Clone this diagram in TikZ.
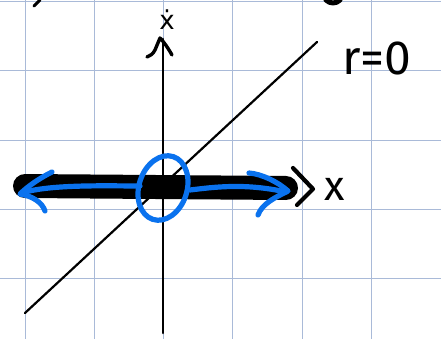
\documentclass[tikz,border=0pt]{standalone}
\usepackage{fontspec}
\setmainfont{Fira Sans}
\newfontfamily\djfont{DejaVu Sans}
\definecolor{gridc}{HTML}{A9BAD8}
\definecolor{blueink}{HTML}{0A72EE}
\begin{document}
\begin{tikzpicture}[x=1pt,y=-1pt,line cap=round,line join=round,
  gridline/.style={draw=gridc,line width=1pt,line cap=butt},
  ink/.style={draw=black,line width=2.4pt},
  bluepen/.style={draw=blueink,line width=5.2pt},
  hand/.style={inner sep=0pt,font=\fontsize{40}{40}\selectfont}]
\useasboundingbox (0,0) rectangle (441,339);
\fill[white] (0,0) rectangle (441,339);
% grid paper
\foreach \gx in {25,94,163,232,302,371} \draw[gridline] (\gx,0) -- (\gx,339);
\foreach \gy in {2,71,141,209,278} \draw[gridline] (0,\gy) -- (441,\gy);
% cut-off strokes at the top edge
\draw[ink,line width=3pt] (34,6) -- (40,0);
\draw[ink,line width=5pt] (326,0) .. controls (330,4) and (336,4) .. (340,0);
% coordinates
\coordinate (vtop) at (163,39);
\coordinate (vbot) at (163,333);
\coordinate (dlo) at (25,313);
\coordinate (dhi) at (317,42);
\coordinate (bl) at (25,186);
\coordinate (br) at (286,188);
% diagonal line
\draw[ink,line width=2.2pt] (dlo) -- (dhi);
% vertical axis with hand-drawn head
\draw[ink,line width=2.6pt] (vbot) -- (vtop);
\draw[ink,line width=3.4pt] (147,57) .. controls (150,56) and (153,54) .. (155,50) -- (160,38) .. controls (164,42) and (168,48) .. (172,55);
% thick black bar
\draw[draw=black,line width=24pt] (bl) -- (br);
\draw[ink,line width=4.2pt] (293,168) -- (313,189) -- (297,205);
% blue trajectory
\draw[bluepen] (22,193) .. controls (50,184) and (110,186) .. (140,186);
\draw[bluepen] (190,190) .. controls (215,187) and (245,183) .. (286,192);
\draw[bluepen] (52,172) .. controls (40,178) and (28,186) .. (20,194) .. controls (32,196) and (42,202) .. (45,211);
\draw[bluepen] (249,173) .. controls (262,174) and (278,182) .. (288,191) .. controls (274,198) and (262,204) .. (258,215);
\draw[bluepen] (163,188) ellipse [x radius=24, y radius=33, rotate=-18];
% labels
\node[hand,font=\fontsize{42}{42}\selectfont] (xlab) at (335,189) {x};
\node[hand,font=\djfont\fontsize{26}{26}\selectfont] (xdot) at (167,20) {ẋ};
\node[hand,font=\fontsize{48}{48}\selectfont,anchor=base west] (rzero) at (342,75) {r=0};
\end{tikzpicture}
\end{document}
